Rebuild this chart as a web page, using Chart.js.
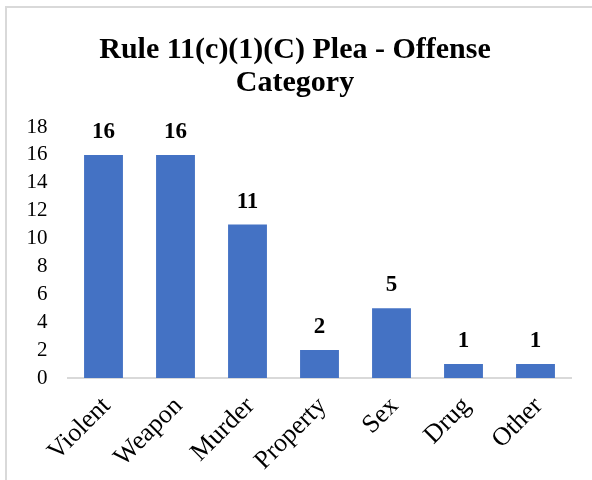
<!DOCTYPE html>
<html><head><meta charset="utf-8">
<script src="https://cdn.jsdelivr.net/npm/chart.js@4"></script>
<style>
html,body{margin:0;padding:0;background:#fff;}
#wrap{position:absolute;left:0;top:0;width:592px;height:480px;overflow:hidden;}
#frame{position:absolute;left:5px;top:6px;width:700px;height:600px;border-left:2px solid #d9d9d9;border-top:2px solid #d9d9d9;}
canvas{position:absolute;left:0;top:0;}
</style></head><body>
<div id="wrap"><div id="frame"></div><canvas id="c" width="592" height="480"></canvas></div>
<script>
const categories = ['Violent','Weapon','Murder','Property','Sex','Drug','Other'];
const counts = [16,16,11,2,5,1,1];
const yTicks = {min:0,max:18,step:2};
const titleLines = ['Rule 11(c)(1)(C) Plea - Offense','Category'];

const serif = "'Liberation Serif','Times New Roman',serif";
const labelPlugin = {
  id:'labels',
  afterDatasetsDraw(chart){
    const ctx = chart.ctx;
    const meta = chart.getDatasetMeta(0);
    ctx.save();
    ctx.font = 'bold 23px ' + serif;
    ctx.fillStyle = '#000';
    ctx.textAlign = 'center';
    ctx.textBaseline = 'alphabetic';
    meta.data.forEach((bar,i)=>{
      ctx.fillText(String(counts[i]), bar.x, bar.y - 17);
    });
    ctx.restore();
  }
};
new Chart(document.getElementById('c'),{
  type:'bar',
  data:{labels:categories,datasets:[{data:counts,backgroundColor:'#4472c4',borderWidth:0,categoryPercentage:1,barPercentage:0.54}]},
  options:{
    responsive:false,animation:false,devicePixelRatio:1,
    layout:{padding:{left:18.5,right:20.5,top:33.5,bottom:0}},
    plugins:{
      legend:{display:false},tooltip:{enabled:false},
      title:{display:true,text:titleLines,color:'#000',font:{family:serif,size:30,weight:'bold',lineHeight:1.1},padding:{top:0,bottom:27.5}}
    },
    scales:{
      x:{grid:{display:false,drawTicks:false},border:{display:true,color:'#d9d9d9',width:2},
         ticks:{color:'#000',font:{family:serif,size:26},minRotation:45,maxRotation:45,padding:13,labelOffset:3,autoSkip:false},
         afterFit(s){s.height=102;s.paddingLeft=0;s.paddingRight=0;}},
      y:{min:yTicks.min,max:yTicks.max,grid:{display:false,drawTicks:false},border:{display:false},
         ticks:{stepSize:yTicks.step,color:'#000',font:{family:serif,size:21},padding:20,autoSkip:false},
         afterFit(s){s.width=49;}}
    }
  },
  plugins:[labelPlugin]
});
</script></body></html>
